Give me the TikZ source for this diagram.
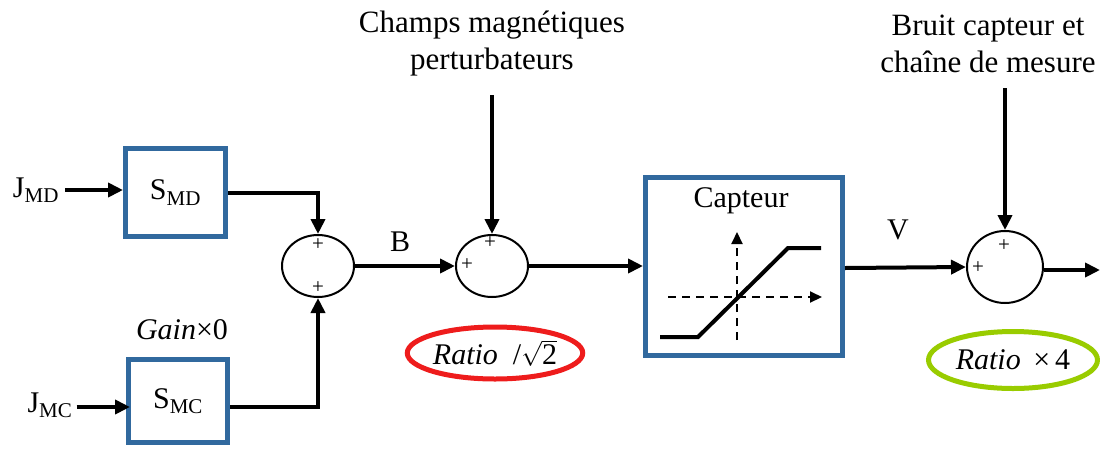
\documentclass[tikz,border=0pt]{standalone}
\usepackage{fontspec}
\setmainfont{Liberation Serif}
\usetikzlibrary{arrows.meta,shapes.geometric}
\definecolor{boxblue}{HTML}{31699E}
\definecolor{ratred}{HTML}{EE1C1C}
\definecolor{ratgreen}{HTML}{99CC00}
\begin{document}
\begin{tikzpicture}[x=1pt,y=-1pt,
  blk/.style={draw=boxblue, line width=5pt, inner sep=0pt, font=\fontsize{30}{34}\selectfont},
  sumnode/.style={draw, ellipse, line width=2pt, minimum width=72pt, minimum height=62pt, inner sep=0pt},
  sig/.style={line width=4pt, -{Triangle[length=15pt,width=14pt]}},
  txt/.style={font=\fontsize{31}{37}\selectfont, align=center, inner sep=0pt},
  lbl/.style={font=\fontsize{30}{34}\selectfont, inner sep=0pt},
  pl/.style={font=\fontsize{21}{21}\selectfont, inner sep=0pt},
  ratio/.style={draw, ellipse, line width=5pt, inner sep=0pt, font=\fontsize{30}{34}\selectfont},
  axis/.style={line width=2pt, dash pattern=on 8pt off 6pt, -{Triangle[length=12pt,width=11pt]}}
]
\useasboundingbox (0,0) rectangle (1100,448);

% blocks
\node[blk, minimum width=100pt, minimum height=88pt] (smd) at (175.5,192.5) {S\textsubscript{MD}};
\node[blk, minimum width=99pt, minimum height=83pt] (smc) at (178,401) {S\textsubscript{MC}};
\node[blk, minimum width=197pt, minimum height=178pt] (cap) at (744,266.5) {};
\node[lbl] (captxt) at (741,201) {Capteur};

% inputs
\node[lbl] (jmd) at (36,190) {J\textsubscript{MD}};
\node[lbl] (jmc) at (50,405) {J\textsubscript{MC}};
\node[lbl] (gain) at (182,330) {\textit{Gain}×0};

% summing junctions
\node[sumnode] (s1) at (318,266) {};
\node[sumnode] (s2) at (492,266) {};
\node[sumnode, minimum width=76pt, minimum height=72pt] (s3) at (1005,267) {};

\node[pl] (p1a) at (318,245) {+};
\node[pl] (p1b) at (318,288) {+};
\node[pl] (p2a) at (490,243) {+};
\node[pl] (p2b) at (467,265) {+};
\node[pl] (p3a) at (1004,246) {+};
\node[pl] (p3b) at (978,268) {+};

% titles
\node[txt] (champs) at (492,43.5) {Champs magnétiques\\perturbateurs};
\node[txt] (bruit) at (988,43.5) {Bruit capteur et\\chaîne de mesure};
\coordinate (n2) at (492,95);
\coordinate (n3) at (1005,88);
\coordinate (out) at (1100,270);

% labels
\node[lbl] (B) at (400,242) {B};
\node[lbl] (V) at (898,230) {V};

% ratio ellipses
\node[ratio, draw=ratred, minimum width=173pt, minimum height=52pt] (r1) at (495,353) {\textit{Ratio}\enspace/$\sqrt{\hbox{2}}$};
\node[ratio, draw=ratgreen, minimum width=169pt, minimum height=57pt] (r2) at (1013,360) {\textit{Ratio}\, ×\,4};

% connectors
\draw[sig] ([xshift=6pt]jmd.east) -- (jmd.east -| smd.west);
\draw[sig] ([xshift=4pt,yshift=-2pt]jmc.east) -- ([xshift=4pt,yshift=-2pt]jmc.east -| smc.west);
\draw[sig] (smd.east) -| (s1.north);
\draw[sig] ([yshift=-6pt]smc.east) -| (s1.south);
\draw[sig] (s1) -- (s2);
\draw[sig] (n2) -- (s2.north);
\draw[sig] (s2) -- (s2 -| cap.west);
\draw[sig] ([yshift=-1.5pt]cap.east) -- (s3.west);
\draw[sig] (n3) -- (s3.north);
\draw[sig] (s3.east |- out) -- (out);

% sensor characteristic
\draw[axis] (737,340) -- (737,232);
\draw[axis] (668,297) -- (822,297);
\draw[line width=4pt] (660,337) -- (698,337) -- (788,248) -- (821,248);
\end{tikzpicture}
\end{document}
